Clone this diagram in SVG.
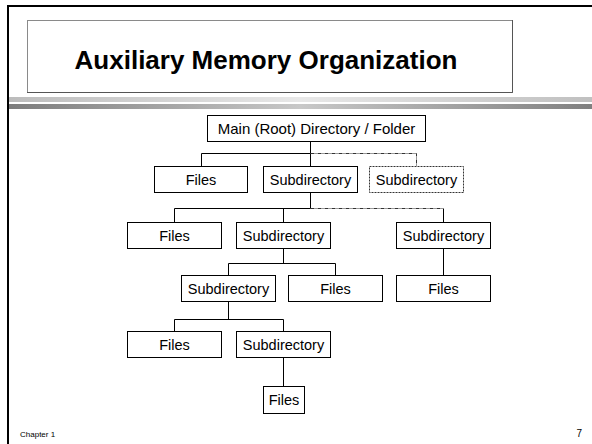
<svg xmlns="http://www.w3.org/2000/svg" width="592" height="444" viewBox="0 0 592 444">
  <defs>
    <linearGradient id="bandLight" x1="0" y1="0" x2="1" y2="0">
      <stop offset="0" stop-color="#bcbcbc"/>
      <stop offset="0.5" stop-color="#e8e8e8"/>
      <stop offset="1" stop-color="#c0c0c0"/>
    </linearGradient>
    <linearGradient id="bandDark" x1="0" y1="0" x2="1" y2="0">
      <stop offset="0" stop-color="#7c7c7c"/>
      <stop offset="0.5" stop-color="#c8c8c8"/>
      <stop offset="1" stop-color="#808080"/>
    </linearGradient>
  </defs>
  <style>
    .box { fill: #ffffff; stroke: #000000; stroke-width: 1; }
    .dotted { fill: #ffffff; stroke: #333333; stroke-width: 1; stroke-dasharray: 2 1; }
    .lbl { font-family: "Liberation Sans", Arial, sans-serif; font-size: 14.5px; fill: #000000; text-anchor: middle; }
    .wire { fill: none; stroke: #000000; stroke-width: 1; }
    .dash { fill: none; stroke: #333333; stroke-width: 1; stroke-dasharray: 4 1 1 1; }
  </style>

  <rect x="0" y="0" width="592" height="444" fill="#ffffff"/>

  <!-- slide frame -->
  <g id="frame">
    <rect x="9" y="97" width="583" height="5" fill="url(#bandLight)"/>
    <rect x="9" y="104" width="583" height="5" fill="url(#bandDark)"/>
    <line x1="8" y1="5" x2="8" y2="444" stroke="#000000" stroke-width="2"/>
    <line x1="7" y1="6" x2="592" y2="6" stroke="#000000" stroke-width="2"/>
  </g>

  <!-- title -->
  <g id="title">
    <rect x="27.5" y="20.5" width="485" height="72" fill="#ffffff" stroke="#8a8a8a" stroke-width="1"/>
    <polyline points="512.5,20 512.5,92.5 27,92.5" fill="none" stroke="#555555" stroke-width="1"/>
    <text x="266" y="69" font-family="'Liberation Sans', Arial, sans-serif" font-size="26" font-weight="bold" text-anchor="middle" fill="#000000">Auxiliary Memory Organization</text>
  </g>

  <!-- connectors -->
  <g id="connectors">
    <path class="wire" d="M310.5,141 V153.5 M201.5,153.5 H310.5 M201.5,153.5 V166 M310.5,153.5 V166"/>
    <path class="dash" d="M310.5,153.5 H416.5 V166"/>
    <path class="wire" d="M310.5,192 V208.5 M174.5,208.5 H310.5 M174.5,208.5 V222 M283.5,208.5 V222 M443.5,208.5 V222"/>
    <path class="dash" d="M310.5,208.5 H443.5"/>
    <path class="wire" d="M283.5,248 V263.5 M228.5,263.5 H335.5 M228.5,263.5 V275 M335.5,263.5 V275"/>
    <path class="wire" d="M443.5,248 V275"/>
    <path class="wire" d="M228.5,301 V319.5 M174.5,319.5 H283.5 M174.5,319.5 V331 M283.5,319.5 V331"/>
    <path class="wire" d="M283.5,357 V386"/>
  </g>

  <!-- nodes -->
  <g id="root">
    <rect class="box" x="207.5" y="115.5" width="218" height="26"/>
    <text class="lbl" x="316.5" y="133.5" style="font-size:15px">Main (Root) Directory / Folder</text>
  </g>
  <g id="files-a">
    <rect class="box" x="154.5" y="166.5" width="93" height="26"/>
    <text class="lbl" x="201" y="184.5">Files</text>
  </g>
  <g id="subdir-a">
    <rect class="box" x="263.5" y="166.5" width="94" height="26"/>
    <text class="lbl" x="310.5" y="184.5">Subdirectory</text>
  </g>
  <g id="subdir-b">
    <rect class="dotted" x="369.5" y="166.5" width="94" height="26"/>
    <text class="lbl" x="416.5" y="184.5">Subdirectory</text>
  </g>
  <g id="files-b">
    <rect class="box" x="127.5" y="222.5" width="94" height="26"/>
    <text class="lbl" x="174.5" y="240.5">Files</text>
  </g>
  <g id="subdir-c">
    <rect class="box" x="236.5" y="222.5" width="94" height="26"/>
    <text class="lbl" x="283.5" y="240.5">Subdirectory</text>
  </g>
  <g id="subdir-d">
    <rect class="box" x="396.5" y="222.5" width="94" height="26"/>
    <text class="lbl" x="443.5" y="240.5">Subdirectory</text>
  </g>
  <g id="subdir-e">
    <rect class="box" x="181.5" y="275.5" width="94" height="26"/>
    <text class="lbl" x="228.5" y="293.5">Subdirectory</text>
  </g>
  <g id="files-c">
    <rect class="box" x="288.5" y="275.5" width="94" height="26"/>
    <text class="lbl" x="335.5" y="293.5">Files</text>
  </g>
  <g id="files-d">
    <rect class="box" x="396.5" y="275.5" width="94" height="26"/>
    <text class="lbl" x="443.5" y="293.5">Files</text>
  </g>
  <g id="files-e">
    <rect class="box" x="127.5" y="331.5" width="94" height="26"/>
    <text class="lbl" x="174.5" y="349.5">Files</text>
  </g>
  <g id="subdir-f">
    <rect class="box" x="236.5" y="331.5" width="94" height="26"/>
    <text class="lbl" x="283.5" y="349.5">Subdirectory</text>
  </g>
  <g id="files-f">
    <rect class="box" x="263.5" y="386.5" width="41" height="27"/>
    <text class="lbl" x="284" y="405">Files</text>
  </g>

  <!-- footer -->
  <g id="footer">
    <text x="20" y="437" font-family="'Liberation Sans', Arial, sans-serif" font-size="8" fill="#000000">Chapter 1</text>
    <text x="582" y="437" font-family="'Liberation Sans', Arial, sans-serif" font-size="10" fill="#000000" text-anchor="end">7</text>
  </g>
</svg>
